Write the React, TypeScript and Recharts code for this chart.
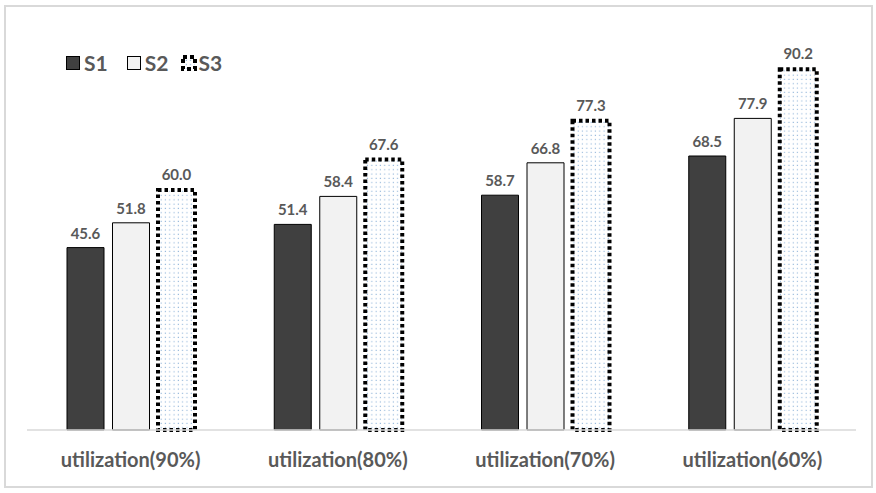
import React from 'react';
import { BarChart, Bar, XAxis, YAxis, LabelList } from 'recharts';

const categories = ['utilization(90%)', 'utilization(80%)', 'utilization(70%)', 'utilization(60%)'];
const s1 = [45.6, 51.4, 58.7, 68.5];
const s2 = [51.8, 58.4, 66.8, 77.9];
const s3 = [60.0, 67.6, 77.3, 90.2];
const seriesNames = ['S1', 'S2', 'S3'];

const data = categories.map((c, i) => ({ name: c, S1: s1[i], S2: s2[i], S3: s3[i] }));

const FONT = 'Lato, "Open Sans", sans-serif';
const TEXT = '#595959';

const fmt = (v: any) => Number(v).toFixed(1);

const LegendBox = () => (
  <div
    style={{
      position: 'absolute',
      left: 64,
      top: 51,
      display: 'flex',
      alignItems: 'center',
      fontFamily: FONT,
      fontWeight: 700,
      fontSize: 21,
      color: TEXT,
      lineHeight: '24px',
    }}
  >
    {seriesNames.map((n, i) => (
      <div key={n} style={{ display: 'flex', alignItems: 'center', marginRight: i === 0 ? 17 : 12 }}>
        <svg width={18} height={18} style={{ marginRight: i === 2 ? 0 : 2 }}>
          <defs>
            <pattern id={`ldots${i}`} width={4.3} height={4.3} patternUnits="userSpaceOnUse">
              <rect width={4.3} height={4.3} fill="#ffffff" />
              <rect x={1.5} y={1.5} width={1.1} height={1.1} fill="#8fb4d9" />
            </pattern>
          </defs>
          {i === 0 && <rect x={2.5} y={2.5} width={13} height={13} fill="#404040" stroke="#000" strokeWidth={1} />}
          {i === 1 && <rect x={2.5} y={2.5} width={13} height={13} fill="#f2f2f2" stroke="#000" strokeWidth={1} />}
          {i === 2 && (
            <rect x={3} y={3} width={12} height={12} fill={`url(#ldots${i})`} stroke="#000" strokeWidth={4} strokeDasharray="4 3" />
          )}
        </svg>
        <span>{n}</span>
      </div>
    ))}
  </div>
);

export default function App() {
  return (
    <div style={{ position: 'absolute', left: 0, top: 0, width: 876, height: 493, background: '#fff' }}>
      <div
        style={{
          position: 'absolute',
          left: 4,
          top: 5,
          width: 865,
          height: 479,
          border: '2px solid #d9d9d9',
        }}
      />
      <div style={{ position: 'absolute', left: 0, top: 0 }}>
        <BarChart
          width={876}
          height={493}
          data={data}
          margin={{ top: 30, right: 20, bottom: 33, left: 27 }}
          barSize={37}
          barGap={8.5}
        >
          <defs>
            <pattern id="dots" width={4.3} height={4.3} patternUnits="userSpaceOnUse">
              <rect width={4.3} height={4.3} fill="#ffffff" />
              <rect x={1.5} y={1.5} width={1.1} height={1.1} fill="#8fb4d9" />
            </pattern>
          </defs>
          <XAxis
            dataKey="name"
            axisLine={{ stroke: '#d9d9d9', strokeWidth: 1.5 }}
            tickLine={false}
            height={30}
            tickMargin={17}
            tick={{ fill: TEXT, fontFamily: FONT, fontWeight: 700, fontSize: 20 }}
            interval={0}
          />
          <YAxis hide domain={[0, 100]} />
          <Bar dataKey="S1" fill="#404040" stroke="#000" strokeWidth={1} isAnimationActive={false}>
            <LabelList dataKey="S1" position="top" offset={9} formatter={fmt} fill={TEXT} fontFamily={FONT} fontWeight={700} fontSize={15} />
          </Bar>
          <Bar dataKey="S2" fill="#f2f2f2" stroke="#000" strokeWidth={1} isAnimationActive={false}>
            <LabelList dataKey="S2" position="top" offset={9} formatter={fmt} fill={TEXT} fontFamily={FONT} fontWeight={700} fontSize={15} />
          </Bar>
          <Bar dataKey="S3" fill="url(#dots)" stroke="#000" strokeWidth={4} strokeDasharray="3.5 3" isAnimationActive={false}>
            <LabelList dataKey="S3" position="top" offset={10} formatter={fmt} fill={TEXT} fontFamily={FONT} fontWeight={700} fontSize={15} />
          </Bar>
        </BarChart>
      </div>
      <LegendBox />
    </div>
  );
}
